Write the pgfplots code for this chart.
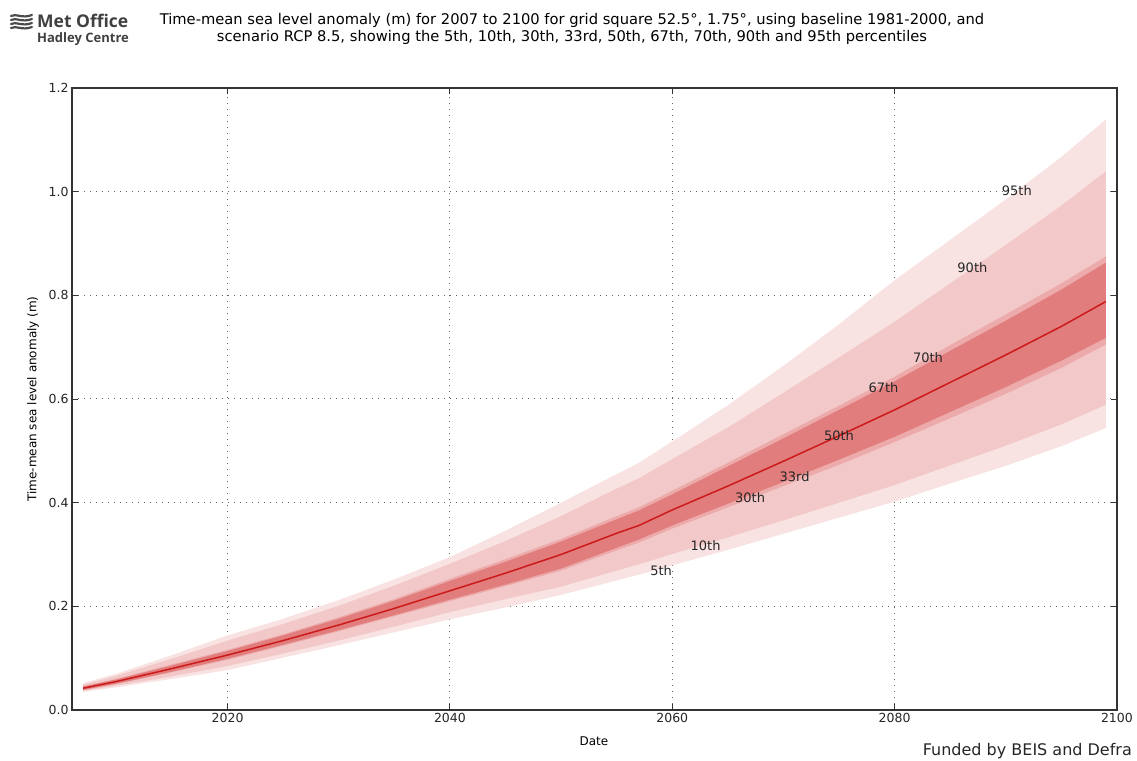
\documentclass[border=0pt]{standalone}
\usepackage{fontspec}
\setmainfont{DejaVu Sans}
\newfontfamily\logofont{Open Sans}
\usepackage{pgfplots}
\pgfplotsset{compat=1.18}
\usepackage{pgfplotstable}
\usepgfplotslibrary{fillbetween}

\definecolor{band95}{HTML}{F8E2E2}
\definecolor{band90}{HTML}{F3C8C8}
\definecolor{band70}{HTML}{ECAAAA}
\definecolor{band67}{HTML}{E27D7D}
\definecolor{medline}{HTML}{CC1A1A}
\definecolor{frame}{HTML}{333333}

% year, percentiles of sea level anomaly (m)
\pgfplotstableread{
year p5    p10   p30   p33   p50   p67   p70   p90   p95
2007 0.035 0.037 0.038 0.039 0.042 0.045 0.046 0.049 0.052
2010 0.044 0.047 0.050 0.051 0.055 0.059 0.060 0.066 0.070
2015 0.060 0.065 0.073 0.074 0.080 0.086 0.088 0.099 0.106
2020 0.077 0.085 0.097 0.099 0.106 0.114 0.116 0.134 0.144
2025 0.101 0.109 0.124 0.126 0.134 0.144 0.146 0.166 0.176
2030 0.125 0.134 0.152 0.154 0.164 0.176 0.179 0.201 0.212
2035 0.150 0.161 0.181 0.183 0.196 0.211 0.214 0.240 0.252
2040 0.175 0.189 0.210 0.213 0.230 0.249 0.253 0.282 0.295
2045 0.198 0.214 0.239 0.242 0.264 0.286 0.291 0.326 0.346
2050 0.222 0.238 0.269 0.273 0.300 0.325 0.330 0.374 0.400
2055 0.250 0.269 0.308 0.313 0.341 0.368 0.374 0.427 0.455
2057 0.261 0.281 0.323 0.329 0.356 0.385 0.391 0.447 0.477
2060 0.279 0.301 0.350 0.356 0.386 0.416 0.423 0.484 0.518
2065 0.309 0.333 0.391 0.398 0.432 0.470 0.477 0.545 0.588
2070 0.340 0.366 0.432 0.440 0.480 0.524 0.532 0.612 0.664
2075 0.371 0.400 0.473 0.483 0.529 0.579 0.587 0.680 0.744
2080 0.402 0.434 0.517 0.527 0.579 0.634 0.643 0.749 0.829
2085 0.437 0.472 0.563 0.575 0.632 0.693 0.704 0.823 0.907
2090 0.471 0.510 0.610 0.623 0.685 0.751 0.763 0.897 0.985
2095 0.509 0.551 0.660 0.674 0.740 0.811 0.823 0.973 1.067
2099 0.544 0.589 0.705 0.718 0.788 0.863 0.875 1.039 1.139
}\slr

\begin{document}
\begin{tikzpicture}

% logo
\begin{scope}[line width=2.2pt, color=black!70, line cap=round]
  \foreach \yy in {682,686,690,694}
    \draw (-61pt,\yy pt) .. controls (-56pt,\yy pt+3pt) and (-50pt,\yy pt-3pt) .. (-40pt,\yy pt+1pt);
\end{scope}
\node[anchor=base west, inner sep=0, text=black!75] at (-35pt,682pt)
  {\logofont\bfseries\fontsize{17.5}{20}\selectfont Met Office};
\node[anchor=base west, inner sep=0, text=black!75] at (-35pt,667pt)
  {\logofont\bfseries\fontsize{13}{15}\selectfont Hadley Centre};

% title
\node[align=center, inner sep=0, font=\fontsize{14.7}{17}\selectfont] at (500pt,681.5pt)
  {Time-mean sea level anomaly (m) for 2007 to 2100 for grid square 52.5°, 1.75°, using baseline 1981-2000, and\\
   scenario RCP 8.5, showing the 5th, 10th, 30th, 33rd, 50th, 67th, 70th, 90th and 95th percentiles};

\begin{axis}[
  at={(0pt,0pt)}, anchor=south west,
  scale only axis, width=1045pt, height=622pt,
  xmin=2006, xmax=2100, ymin=0, ymax=1.2,
  xtick={2020,2040,2060,2080,2100},
  ytick={0,0.2,0.4,0.6,0.8,1.0,1.2},
  xticklabel style={/pgf/number format/1000 sep={}},
  yticklabel style={/pgf/number format/.cd, fixed, fixed zerofill, precision=1},
  /pgf/number format/assume math mode=true,
  tick label style={font=\fontsize{12.5}{14}\selectfont, text=black!85},
  tick align=inside,
  major tick length=6pt,
  tick style={frame, line width=0.9pt},
  axis line style={frame, line width=1.4pt},
  grid=major,
  grid style={black!60, line width=1pt, dash pattern=on 1pt off 5pt},
  xlabel={Date},
  ylabel={Time-mean sea level anomaly (m)},
  label style={font=\fontsize{12}{14}\selectfont},
  xlabel style={at={(axis description cs:0.4995,-0.0498)}, anchor=center},
  ylabel style={at={(axis description cs:-0.0373,0.5)}, anchor=center},
]
\addplot[draw=none, name path=p5]  table[x=year,y=p5]  {\slr};
\addplot[draw=none, name path=p10] table[x=year,y=p10] {\slr};
\addplot[draw=none, name path=p30] table[x=year,y=p30] {\slr};
\addplot[draw=none, name path=p33] table[x=year,y=p33] {\slr};
\addplot[draw=none, name path=p67] table[x=year,y=p67] {\slr};
\addplot[draw=none, name path=p70] table[x=year,y=p70] {\slr};
\addplot[draw=none, name path=p90] table[x=year,y=p90] {\slr};
\addplot[draw=none, name path=p95] table[x=year,y=p95] {\slr};

\addplot[fill=band95, draw=none] fill between[of=p95 and p5];
\addplot[fill=band90, draw=none] fill between[of=p90 and p10];
\addplot[fill=band70, draw=none] fill between[of=p70 and p30];
\addplot[fill=band67, draw=none] fill between[of=p67 and p33];

\addplot[medline, line width=1.5pt] table[x=year,y=p50] {\slr};

\node[font=\fontsize{13}{15}\selectfont, text=black!85, inner sep=0] at (axis cs:2091,1.001) {95th};
\node[font=\fontsize{13}{15}\selectfont, text=black!85, inner sep=0] at (axis cs:2087,0.853) {90th};
\node[font=\fontsize{13}{15}\selectfont, text=black!85, inner sep=0] at (axis cs:2083,0.679) {70th};
\node[font=\fontsize{13}{15}\selectfont, text=black!85, inner sep=0] at (axis cs:2079,0.621) {67th};
\node[font=\fontsize{13}{15}\selectfont, text=black!85, inner sep=0] at (axis cs:2075,0.529) {50th};
\node[font=\fontsize{13}{15}\selectfont, text=black!85, inner sep=0] at (axis cs:2071,0.450) {33rd};
\node[font=\fontsize{13}{15}\selectfont, text=black!85, inner sep=0] at (axis cs:2067,0.409) {30th};
\node[font=\fontsize{13}{15}\selectfont, text=black!85, inner sep=0] at (axis cs:2063,0.318) {10th};
\node[font=\fontsize{13}{15}\selectfont, text=black!85, inner sep=0] at (axis cs:2059,0.268) {5th};
\end{axis}

\node[anchor=base east, inner sep=0, font=\fontsize{16}{18}\selectfont, text=black!85] at (1060pt,-45pt)
  {Funded by BEIS and Defra};
\path (-72pt,-50pt) rectangle (1065pt,710pt);
\end{tikzpicture}
\end{document}
